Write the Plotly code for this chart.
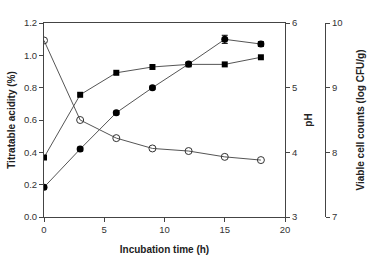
import plotly.graph_objects as go

time_h = [0, 3, 6, 9, 12, 15, 18]
acidity = [0.184, 0.42, 0.645, 0.80, 0.946, 1.099, 1.07]
acidity_err = [0.01, 0.012, 0.01, 0.01, 0.01, 0.025, 0.015]
ph = [5.73, 4.50, 4.22, 4.06, 4.02, 3.93, 3.88]
viable = [7.92, 8.89, 9.23, 9.32, 9.36, 9.36, 9.47]

W, H = 368, 255
ml, mr, mt, mb = 44, 43, 23, 38
plot_w = W - ml - mr
x_end = (285 - ml) / plot_w

font = dict(family="Liberation Sans, Arial, sans-serif", size=9.5, color="#333")
tfont = dict(family="Liberation Sans, Arial, sans-serif", size=10, color="#222")
line_col = "#555"
axis_col = "#444"

fig = go.Figure()
fig.add_trace(go.Scatter(
    x=time_h, y=ph, yaxis="y2", mode="lines+markers",
    line=dict(color=line_col, width=1),
    marker=dict(symbol="circle-open", size=7, color="#333", line=dict(width=1)),
    showlegend=False))
fig.add_trace(go.Scatter(
    x=time_h, y=viable, yaxis="y3", mode="lines+markers",
    line=dict(color=line_col, width=1),
    marker=dict(symbol="square", size=6, color="#000"),
    showlegend=False))
fig.add_trace(go.Scatter(
    x=time_h, y=acidity, mode="lines+markers",
    line=dict(color=line_col, width=1),
    marker=dict(symbol="circle", size=7, color="#000"),
    error_y=dict(type="data", array=acidity_err, color="#000", thickness=1, width=3),
    showlegend=False))

fig.update_layout(
    width=W, height=H,
    margin=dict(l=ml, r=mr, t=mt, b=mb, pad=0, autoexpand=False),
    paper_bgcolor="white", plot_bgcolor="white",
    font=font,
    xaxis=dict(domain=[0, x_end], range=[0, 20], tickvals=[0, 5, 10, 15, 20],
               showgrid=False, zeroline=False, showline=True, linecolor=axis_col,
               linewidth=1, mirror=True, ticks="outside", ticklen=4, tickcolor=axis_col,
               automargin=False,
               title=dict(text="<b>Incubation time (h)</b>", standoff=12, font=tfont)),
    yaxis=dict(range=[0, 1.2], tickvals=[0, 0.2, 0.4, 0.6, 0.8, 1.0, 1.2],
               ticktext=["0.0", "0.2", "0.4", "0.6", "0.8", "1.0", "1.2"],
               showgrid=False, zeroline=False, showline=True, linecolor=axis_col,
               linewidth=1, ticks="outside", ticklen=4, tickcolor=axis_col,
               automargin=False,
               title=dict(text="<b>Titratable acidity (%)</b>", standoff=6, font=tfont)),
    yaxis2=dict(range=[3, 6], tickvals=[3, 4, 5, 6], overlaying="y", side="right",
                anchor="x", showgrid=False, zeroline=False, showline=True,
                linecolor=axis_col, linewidth=1, ticks="outside", ticklen=4,
                tickcolor=axis_col, automargin=False,
                title=dict(text="<b>pH</b>", standoff=8, font=tfont)),
    yaxis3=dict(range=[7, 10], tickvals=[7, 8, 9, 10], overlaying="y", side="right",
                anchor="free", position=1.0, showgrid=False, zeroline=False,
                showline=True, linecolor=axis_col, linewidth=1, ticks="outside",
                ticklen=4, tickcolor=axis_col, automargin=False,
                title=dict(text="<b>Viable cell counts (log CFU/g)</b>", standoff=15, font=tfont)),
)

fig.write_html("out.html")
